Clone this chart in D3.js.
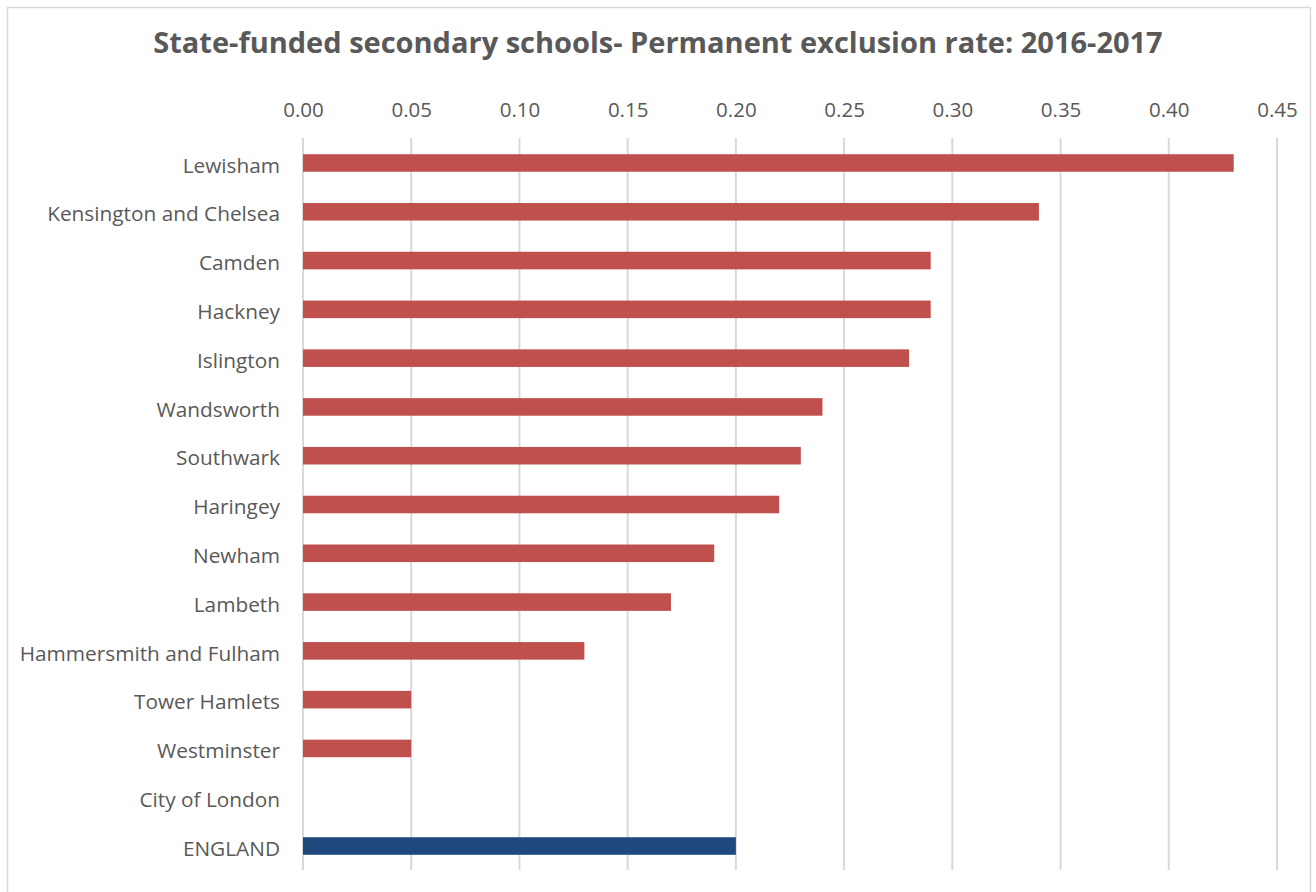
<!DOCTYPE html>
<html>
<head>
<meta charset="utf-8">
<script src="https://cdn.jsdelivr.net/npm/d3@7"></script>
<style>
  body { margin: 0; background: #fff; }
  svg { display: block; }
</style>
</head>
<body>
<svg id="chart"></svg>
<script>
// boroughs, top to bottom
const boroughs = ["Lewisham", "Kensington and Chelsea", "Camden", "Hackney", "Islington",
  "Wandsworth", "Southwark", "Haringey", "Newham", "Lambeth", "Hammersmith and Fulham",
  "Tower Hamlets", "Westminster", "City of London", "ENGLAND"];
const rates = [0.43, 0.34, 0.29, 0.29, 0.28, 0.24, 0.23, 0.22, 0.19, 0.17, 0.13, 0.05, 0.05, 0, 0.20];
const xTicks = [0, 0.05, 0.10, 0.15, 0.20, 0.25, 0.30, 0.35, 0.40, 0.45];
const title = "State-funded secondary schools- Permanent exclusion rate: 2016-2017";

const width = 1316, height = 892;
const font = "'Open Sans', sans-serif";

const svg = d3.select("#chart")
    .attr("width", width)
    .attr("height", height)
    .attr("font-family", font);

// chart frame
svg.append("rect")
    .attr("x", 7.5).attr("y", 7.5)
    .attr("width", 1303).attr("height", 900)
    .attr("fill", "#fff")
    .attr("stroke", "#d9d9d9")
    .attr("stroke-width", 1.5);

svg.append("text")
    .attr("x", 658).attr("y", 53)
    .attr("text-anchor", "middle")
    .attr("font-size", 29)
    .attr("font-weight", "bold")
    .attr("fill", "#595959")
    .text(title);

const x = d3.scaleLinear()
    .domain([0, 0.45])
    .range([303, 1277]);

const y = d3.scaleBand()
    .domain(boroughs)
    .range([138.6, 870.4])
    .paddingInner(0.64)
    .paddingOuter(0.32);

// gridlines
svg.append("g")
    .selectAll("line")
    .data(xTicks)
    .join("line")
      .attr("x1", d => x(d)).attr("x2", d => x(d))
      .attr("y1", 138).attr("y2", 870)
      .attr("stroke", "#d9d9d9")
      .attr("stroke-width", 2);

// top axis, no domain line or tick marks
const xAxis = d3.axisTop(x)
    .tickValues(xTicks)
    .tickFormat(d3.format(".2f"))
    .tickSize(0)
    .tickPadding(0);

const gx = svg.append("g")
    .attr("transform", "translate(0, 117)")
    .call(xAxis);
gx.select(".domain").remove();
gx.selectAll("text")
    .attr("font-family", font)
    .attr("font-size", 20.5)
    .attr("fill", "#595959");

const yAxis = d3.axisLeft(y)
    .tickSize(0)
    .tickPadding(0);

const gy = svg.append("g")
    .attr("transform", "translate(280, 3)")
    .call(yAxis);
gy.select(".domain").remove();
gy.selectAll("text")
    .attr("font-family", font)
    .attr("font-size", 20.8)
    .attr("fill", "#595959");

svg.append("g")
    .selectAll("rect")
    .data(rates)
    .join("rect")
      .attr("x", x(0))
      .attr("y", (d, i) => y(boroughs[i]))
      .attr("width", d => x(d) - x(0))
      .attr("height", y.bandwidth())
      .attr("fill", (d, i) => boroughs[i] === "ENGLAND" ? "#1f497d" : "#c0504d");
</script>
</body>
</html>
